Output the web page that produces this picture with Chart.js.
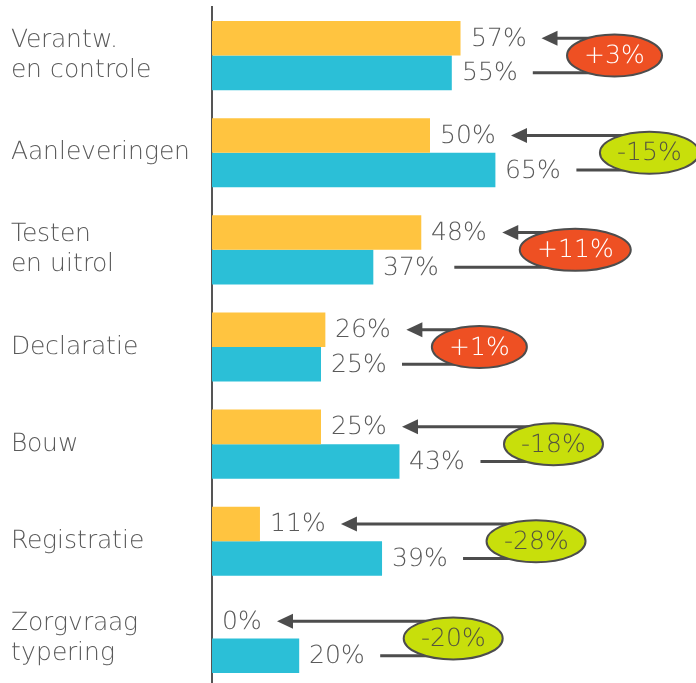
<!DOCTYPE html>
<html>
<head>
<meta charset="utf-8">
<script src="https://cdn.jsdelivr.net/npm/chart.js@4.4.1/dist/chart.umd.min.js"></script>
<style>
  @font-face {
    font-family: 'DJLight';
    src: local('DejaVu Sans ExtraLight'), local('DejaVuSans-ExtraLight');
  }
  html, body { margin: 0; padding: 0; background: #ffffff; overflow: hidden; }
  #wrap { width: 696px; height: 683px; overflow: hidden; }
  canvas { display: block; }
</style>
</head>
<body>
<div id="wrap"><canvas id="c" width="696" height="687"></canvas></div>
<script>
const categories = [
  ['Verantw.', 'en controle'],
  'Aanleveringen',
  ['Testen', 'en uitrol'],
  'Declaratie',
  'Bouw',
  'Registratie',
  ['Zorgvraag', 'typering']
];
const currentValues = [57, 50, 48, 26, 25, 11, 0];
const previousValues = [55, 65, 37, 25, 43, 39, 20];
const changeValues = [3, -15, 11, 1, -18, -28, -20];

const FONT = '"DJLight", "DejaVu Sans", sans-serif';
const TEXT_COLOR = '#5a5a5a';
const LINE_COLOR = '#4d4d4d';

const annotatePlugin = {
  id: 'annotate',
  afterDatasetsDraw(chart) {
    const ctx = chart.ctx;
    const xs = chart.scales.x;
    const metaA = chart.getDatasetMeta(0);
    const metaB = chart.getDatasetMeta(1);
    ctx.save();
    ctx.textBaseline = 'middle';
    ctx.textAlign = 'left';
    for (let i = 0; i < categories.length; i++) {
      const a = metaA.data[i];
      const b = metaB.data[i];
      const la = currentValues[i] + '%';
      const lb = previousValues[i] + '%';
      ctx.font = '25px ' + FONT;
      ctx.fillStyle = TEXT_COLOR;
      const ax = a.x + 10, bx = b.x + 10;
      ctx.fillText(la, ax, a.y + 1);
      ctx.fillText(lb, bx, b.y + 1);
      const aEnd = ax + ctx.measureText(la).width;
      const bEnd = bx + ctx.measureText(lb).width;

      const ex = xs.getPixelForValue(Math.max(currentValues[i], previousValues[i])) + 154;
      const ey = (a.y + b.y) / 2;

      ctx.strokeStyle = LINE_COLOR;
      ctx.lineWidth = 3;
      const tip = aEnd + 15;
      ctx.beginPath();
      ctx.moveTo(tip + 12, a.y);
      ctx.lineTo(ex, a.y);
      ctx.moveTo(bEnd + 15, b.y);
      ctx.lineTo(ex, b.y);
      ctx.stroke();
      ctx.fillStyle = LINE_COLOR;
      ctx.beginPath();
      ctx.moveTo(tip, a.y);
      ctx.lineTo(tip + 16, a.y - 7.5);
      ctx.lineTo(tip + 16, a.y + 7.5);
      ctx.closePath();
      ctx.fill();

      const v = changeValues[i];
      const txt = (v > 0 ? '+' : '') + v + '%';
      ctx.font = '25px ' + FONT;
      const tw = ctx.measureText(txt).width;
      const rx = tw / 2 + 17;
      ctx.beginPath();
      ctx.ellipse(ex, ey, rx, 21, 0, 0, Math.PI * 2);
      ctx.fillStyle = v > 0 ? '#ee5023' : '#c8df0b';
      ctx.fill();
      ctx.lineWidth = 2;
      ctx.strokeStyle = LINE_COLOR;
      ctx.stroke();
      ctx.fillStyle = v > 0 ? '#ffffff' : '#55553f';
      ctx.textAlign = 'center';
      ctx.fillText(txt, ex, ey + 1);
      ctx.textAlign = 'left';
    }
    ctx.restore();
  }
};

function build() {
  new Chart(document.getElementById('c'), {
    type: 'bar',
    data: {
      labels: categories,
      datasets: [
        { data: currentValues, backgroundColor: '#ffc440', borderWidth: 0 },
        { data: previousValues, backgroundColor: '#2bbfd7', borderWidth: 0 }
      ]
    },
    options: {
      indexAxis: 'y',
      responsive: false,
      animation: false,
      devicePixelRatio: 1,
      categoryPercentage: 0.712,
      barPercentage: 1,
      layout: { padding: { left: 11, top: 7, right: 48, bottom: 0 } },
      plugins: { legend: { display: false }, tooltip: { enabled: false } },
      scales: {
        x: { display: false, min: 0, max: 100 },
        y: {
          grid: { display: false, drawTicks: false },
          border: { display: true, color: '#555555', width: 2 },
          ticks: {
            crossAlign: 'far',
            color: TEXT_COLOR,
            font: { family: FONT, size: 25, weight: 'normal', lineHeight: 1.2 },
            padding: 0
          },
          afterFit(scale) {
            scale.width = 201;
            scale.paddingTop = 0;
            scale.paddingBottom = 0;
          }
        }
      }
    },
    plugins: [annotatePlugin]
  });
}

if (document.fonts && document.fonts.load) {
  Promise.all([document.fonts.load('25px DJLight')]).then(build, build);
} else {
  build();
}
</script>
</body>
</html>
